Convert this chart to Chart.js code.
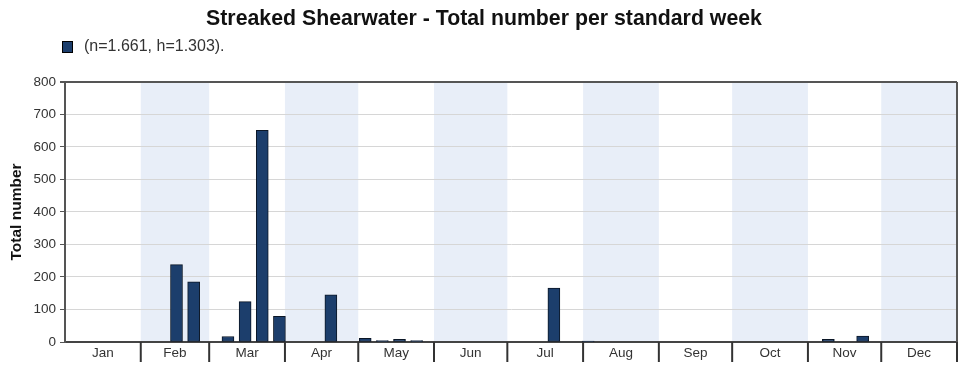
<!DOCTYPE html>
<html>
<head>
<meta charset="utf-8">
<title>Streaked Shearwater</title>
<script src="https://cdn.jsdelivr.net/npm/chart.js@4/dist/chart.umd.min.js"></script>
<style>
    html, body { margin: 0; padding: 0; background: #fff; }
    #wrap { width: 974px; height: 375px; position: relative; }
</style>
</head>
<body>
<div id="wrap"><canvas id="weekChart"></canvas></div>
<script>
// standard weeks 1..52
const weekLabels = [];
for (let w = 1; w <= 52; w++) weekLabels.push('W' + w);

// total number per standard week
const weekTotals = [
    0, 0, 0, 0, 0, 0, 238, 185, 0, 17, 124, 651, 79,
    0, 0, 145, 0, 11, 4, 8, 4, 0, 0, 0, 0, 0,
    0, 0, 166, 0, 3, 0, 0, 0, 0, 0, 0, 0, 0,
    0, 0, 0, 0, 0, 8, 0, 18, 0, 0, 0, 0, 0
];

const monthNames = ['Jan', 'Feb', 'Mar', 'Apr', 'May', 'Jun', 'Jul', 'Aug', 'Sep', 'Oct', 'Nov', 'Dec'];
const monthDays = [31, 28, 31, 30, 31, 30, 31, 31, 30, 31, 30, 31];

const yTicks = [0, 100, 200, 300, 400, 500, 600, 700, 800];

const legendText = '(n=1.661, h=1.303).';
const barColor = '#1c3e6c';
const bandColor = '#e8eef8';
const fontFamily = '"Liberation Sans", Arial, sans-serif';

Chart.defaults.font.family = fontFamily;
Chart.defaults.color = '#333';

// month boundaries as fractional week index on the category scale
function monthEdges(xScale) {
    const edges = [];
    let day = 0;
    edges.push(xScale.getPixelForValue(-0.5));
    monthDays.forEach(d => {
        day += d;
        edges.push(xScale.getPixelForValue(day / 365 * 52 - 0.5));
    });
    return edges;
}

const monthPlugin = {
    id: 'monthPlugin',
    beforeDraw(chart) {
        const ctx = chart.ctx;
        const area = chart.chartArea;
        const edges = monthEdges(chart.scales.x);
        ctx.save();
        ctx.fillStyle = bandColor;
        for (let m = 1; m < 12; m += 2) {
            ctx.fillRect(edges[m], area.top, edges[m + 1] - edges[m], area.bottom - area.top);
        }
        ctx.restore();
    },
    afterDraw(chart) {
        const ctx = chart.ctx;
        const area = chart.chartArea;
        const edges = monthEdges(chart.scales.x);
        ctx.save();

        // right frame line
        ctx.strokeStyle = '#555';
        ctx.lineWidth = 2;
        ctx.beginPath();
        ctx.moveTo(area.right, area.top);
        ctx.lineTo(area.right, area.bottom);
        ctx.stroke();

        // month separators under the axis
        ctx.strokeStyle = '#333';
        ctx.lineWidth = 2;
        for (let m = 1; m <= 12; m++) {
            ctx.beginPath();
            ctx.moveTo(edges[m], area.bottom);
            ctx.lineTo(edges[m], area.bottom + 20);
            ctx.stroke();
        }

        // month labels
        ctx.fillStyle = '#333';
        ctx.font = '13.5px ' + fontFamily;
        ctx.textAlign = 'center';
        ctx.textBaseline = 'middle';
        monthNames.forEach((name, m) => {
            ctx.fillText(name, (edges[m] + edges[m + 1]) / 2, area.bottom + 11);
        });

        // legend
        ctx.fillStyle = barColor;
        ctx.fillRect(62, 41, 11, 12);
        ctx.strokeStyle = '#000';
        ctx.lineWidth = 1;
        ctx.strokeRect(62.5, 41.5, 10, 11);
        ctx.fillStyle = '#333';
        ctx.font = '16px ' + fontFamily;
        ctx.textAlign = 'left';
        ctx.fillText(legendText, 84, 47);

        ctx.restore();
    }
};

const ctx = document.getElementById('weekChart').getContext('2d');
const weekChart = new Chart(ctx, {
    type: 'bar',
    data: {
        labels: weekLabels,
        datasets: [{
            label: legendText,
            data: weekTotals,
            backgroundColor: barColor,
            borderColor: '#0b1626',
            borderWidth: 1,
            borderSkipped: false,
            barThickness: 12
        }]
    },
    options: {
        responsive: true,
        maintainAspectRatio: false,
        animation: false,
        layout: { padding: { left: 0, right: 6, top: 0, bottom: 0 } },
        plugins: {
            legend: { display: false },
            tooltip: { enabled: false },
            title: {
                display: true,
                text: 'Streaked Shearwater - Total number per standard week',
                color: '#111',
                font: { size: 21.3, weight: 'bold' },
                padding: { top: 6, bottom: 50.4 }
            }
        },
        scales: {
            x: {
                type: 'category',
                offset: true,
                grid: { display: false },
                ticks: { display: false },
                border: { color: '#444', width: 2 },
                afterFit: scale => { scale.height = 33; }
            },
            y: {
                min: 0,
                max: 800,
                afterBuildTicks: scale => { scale.ticks = yTicks.map(v => ({ value: v })); },
                ticks: {
                    padding: 4,
                    font: { size: 13.5 },
                    color: '#333'
                },
                grid: {
                    color: c => (c.tick && c.tick.value === 800) ? '#555' : '#d6d6d6',
                    lineWidth: c => (c.tick && c.tick.value === 800) ? 2 : 1,
                    tickColor: '#555',
                    tickLength: 5
                },
                border: { color: '#555', width: 2 },
                title: {
                    display: true,
                    text: 'Total number',
                    color: '#111',
                    font: { size: 15.5, weight: 'bold' },
                    padding: { top: 7, bottom: 0 }
                },
                afterFit: scale => { scale.width = 65; }
            },
            // empty spacer on the right so the title centres like the original
            spacer: {
                type: 'linear',
                position: 'right',
                grid: { display: false },
                ticks: { display: false },
                border: { display: false },
                afterFit: scale => { scale.width = 11; }
            }
        }
    },
    plugins: [monthPlugin]
});
</script>
</body>
</html>
